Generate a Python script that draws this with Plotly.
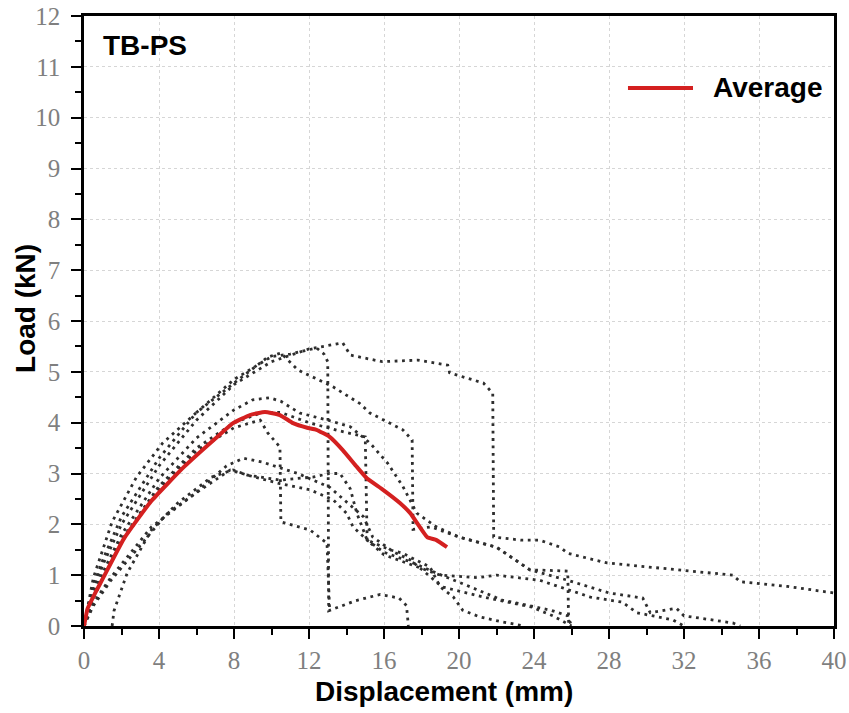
import plotly.graph_objects as go

# ---- data (Displacement mm, Load kN) ----
s1_x = [0, 0.5, 1.5, 2.8, 4.2, 6, 7.8, 9.8, 10.5, 11.4, 13.3, 14.7, 15.25, 16.2, 17, 17.5, 17.55, 18.5, 20, 22, 23.8, 24.3, 25.8, 25.85]
s1_y = [0, 0.95, 2.05, 2.93, 3.6, 4.2, 4.72, 5.29, 5.37, 5.04, 4.7, 4.38, 4.19, 4.01, 3.86, 3.66, 1.9, 1.95, 1.75, 1.55, 1.1, 1.1, 1.08, 0]

s2_x = [0, 0.5, 1, 2, 4, 6, 8, 10, 12, 13.3, 13.8, 14.2, 15.9, 17.8, 19.4, 19.5, 21.3, 21.8, 21.85, 23.3, 24.3, 25.4, 25.8, 27.9, 30.6, 34.6, 35, 37.5, 40]
s2_y = [0, 0.7, 1.2, 2.0, 3.15, 4.05, 4.75, 5.2, 5.45, 5.53, 5.57, 5.33, 5.2, 5.23, 5.13, 4.98, 4.78, 4.58, 1.75, 1.69, 1.69, 1.55, 1.43, 1.24, 1.14, 1.0, 0.87, 0.78, 0.65]

s3_x = [0, 0.5, 1, 2, 4, 6, 8, 10, 11, 12.4, 12.8, 13.0, 13.05, 14.5, 15.8, 16.8, 17.2, 17.3]
s3_y = [0, 0.8, 1.3, 2.15, 3.3, 4.2, 4.85, 5.3, 5.35, 5.47, 5.35, 5.2, 0.3, 0.5, 0.62, 0.55, 0.4, 0]

s4_x = [0, 0.5, 1, 2, 4, 6, 8, 9, 9.9, 10.5, 11.5, 13, 14.2, 15.25, 16.2, 17, 17.75, 18.8, 20, 22, 23.8, 25.8, 28, 29.8, 30.2, 31.6, 32, 34.6, 35]
s4_y = [0, 0.6, 1.05, 1.8, 2.9, 3.7, 4.25, 4.45, 4.49, 4.42, 4.19, 4.05, 3.92, 3.6, 3.2, 2.75, 2.22, 1.95, 1.75, 1.55, 1.1, 0.9, 0.65, 0.55, 0.26, 0.35, 0.2, 0.06, 0]

s5_x = [0, 0.5, 1, 2, 4, 6, 8, 9.4, 9.8, 10.45, 10.5, 12.05, 12.96, 13.1]
s5_y = [0, 0.55, 0.95, 1.65, 2.7, 3.45, 3.9, 4.05, 3.8, 3.52, 2.05, 1.89, 1.63, 0.3]

s6_x = [0, 0.5, 1, 2, 4, 6, 8, 9.5, 10.5, 12, 13.5, 15.0, 15.1, 16, 17.5, 19, 21, 22, 24.3, 27, 28.7, 29.5, 31.4, 32]
s6_y = [0, 0.55, 0.95, 1.7, 2.75, 3.5, 4.0, 4.2, 4.2, 4.0, 3.85, 3.72, 1.69, 1.4, 1.2, 1.0, 0.95, 1.0, 0.9, 0.57, 0.47, 0.26, 0.12, 0]

s7_x = [0, 0.5, 1.44, 3.6, 5.9, 7.6, 8.5, 9.55, 11.4, 13.1, 14.9, 15.4, 16.5, 17.4, 18.5, 19.1, 21.3, 23.9, 25, 26]
s7_y = [0, 0.45, 0.96, 1.95, 2.6, 3.15, 3.3, 3.22, 3.0, 2.73, 2.15, 1.75, 1.46, 1.3, 0.96, 0.77, 0.57, 0.37, 0.2, 0]

s8_x = [1.5, 1.6, 2.3, 3.6, 5.0, 6.8, 7.95, 8.7, 10.45, 12.2, 13.1, 13.65, 14.2, 14.55, 15.1, 16.3, 17, 18.45, 19, 19.7, 20.2, 21.1, 22.3, 23.5]
s8_y = [0, 0.3, 1.04, 1.89, 2.42, 2.93, 3.07, 2.97, 2.87, 2.93, 3.0, 3.0, 2.7, 2.22, 1.69, 1.5, 1.43, 1.16, 0.77, 0.57, 0.31, 0.18, 0.08, 0]

s9_x = [0, 0.5, 1.44, 3.6, 4.4, 5.9, 7.1, 7.8, 8.7, 10.45, 12.05, 13.3, 14, 14.35, 15.1, 16.0, 17.5, 18.8, 20.6, 22.3, 24.9, 25.8, 26]
s9_y = [0, 0.4, 0.9, 1.85, 2.2, 2.6, 2.9, 3.07, 2.97, 2.8, 2.68, 2.48, 2.22, 1.95, 1.69, 1.45, 1.25, 1.04, 0.77, 0.51, 0.31, 0.2, 0]

avg_x = [0, 0.2, 0.6, 1.07, 2.13, 3.57, 5.33, 7.1, 7.95, 8.85, 9.65, 10.45, 11.15, 11.9, 12.4, 13.1, 13.8, 14.55, 15.1, 15.95, 16.85, 17.4, 18.3, 18.8, 19.36]
avg_y = [0, 0.35, 0.65, 0.98, 1.72, 2.45, 3.13, 3.72, 3.99, 4.15, 4.21, 4.15, 3.99, 3.9, 3.86, 3.72, 3.46, 3.13, 2.9, 2.68, 2.42, 2.22, 1.75, 1.69, 1.55]

x_ticks = [0, 4, 8, 12, 16, 20, 24, 28, 32, 36, 40]
y_ticks = list(range(0, 13))

specimens = [(s1_x, s1_y), (s2_x, s2_y), (s3_x, s3_y), (s4_x, s4_y), (s5_x, s5_y),
             (s6_x, s6_y), (s7_x, s7_y), (s8_x, s8_y), (s9_x, s9_y)]

fig = go.Figure()
for i, (sx, sy) in enumerate(specimens):
    fig.add_trace(go.Scatter(x=sx, y=sy, mode="lines", showlegend=False,
                             name=f"Specimen {i+1}",
                             line=dict(color="#2e2e2e", width=2.8, dash="2.8px,4.6px")))

fig.add_trace(go.Scatter(x=avg_x, y=avg_y, mode="lines", name="Average", showlegend=False,
                         line=dict(color="#d42020", width=4, shape="spline", smoothing=0.4)))

tickfont = dict(family="Liberation Serif", size=25, color="#7f7f7f")
bold = dict(family="Liberation Sans", size=28, color="black", weight="bold")

fig.update_layout(
    width=849, height=713,
    margin=dict(l=84, r=15, t=16, b=87),
    plot_bgcolor="white", paper_bgcolor="white",
    xaxis=dict(range=[0, 40], tickvals=x_ticks, ticktext=[str(v) for v in x_ticks],
               ticks="outside", ticklen=10, tickwidth=2, tickcolor="black",
               minor=dict(dtick=2, tick0=0, ticks="outside", ticklen=6, tickwidth=2, tickcolor="black", showgrid=False),
               showline=True, linewidth=2.5, linecolor="black", mirror=True,
               showgrid=True, gridcolor="#d6d6d6", griddash="dot", gridwidth=1.2,
               tickfont=tickfont, ticklabelstandoff=0, zeroline=False, automargin=False),
    yaxis=dict(range=[0, 12], tickvals=y_ticks, ticktext=[str(v) for v in y_ticks],
               ticks="outside", ticklen=10, tickwidth=2, tickcolor="black",
               minor=dict(dtick=0.5, tick0=0, ticks="outside", ticklen=6, tickwidth=2, tickcolor="black", showgrid=False),
               showline=True, linewidth=2.5, linecolor="black", mirror=True,
               showgrid=True, gridcolor="#d6d6d6", griddash="dot", gridwidth=1.2,
               tickfont=tickfont, ticklabelstandoff=6, zeroline=False, automargin=False),
    annotations=[
        dict(text="Displacement (mm)", xref="paper", yref="paper", x=0.48, y=-0.108,
             showarrow=False, font=bold, xanchor="center", yanchor="middle"),
        dict(text="Load (kN)", xref="paper", yref="paper", x=-0.079, y=0.521, textangle=-90,
             showarrow=False, font=bold, xanchor="center", yanchor="middle"),
        dict(text="TB-PS", xref="paper", yref="paper", x=0.022, y=0.952,
             showarrow=False, font=bold, xanchor="left", yanchor="middle"),
        dict(text="Average", xref="paper", yref="paper", x=0.836, y=0.882,
             showarrow=False, font=bold, xanchor="left", yanchor="middle"),
    ],
    shapes=[dict(type="line", xref="paper", yref="paper", x0=0.7253, x1=0.812, y0=0.882, y1=0.882,
                 line=dict(color="#d42020", width=4))],
)

fig.write_html("out.html")
